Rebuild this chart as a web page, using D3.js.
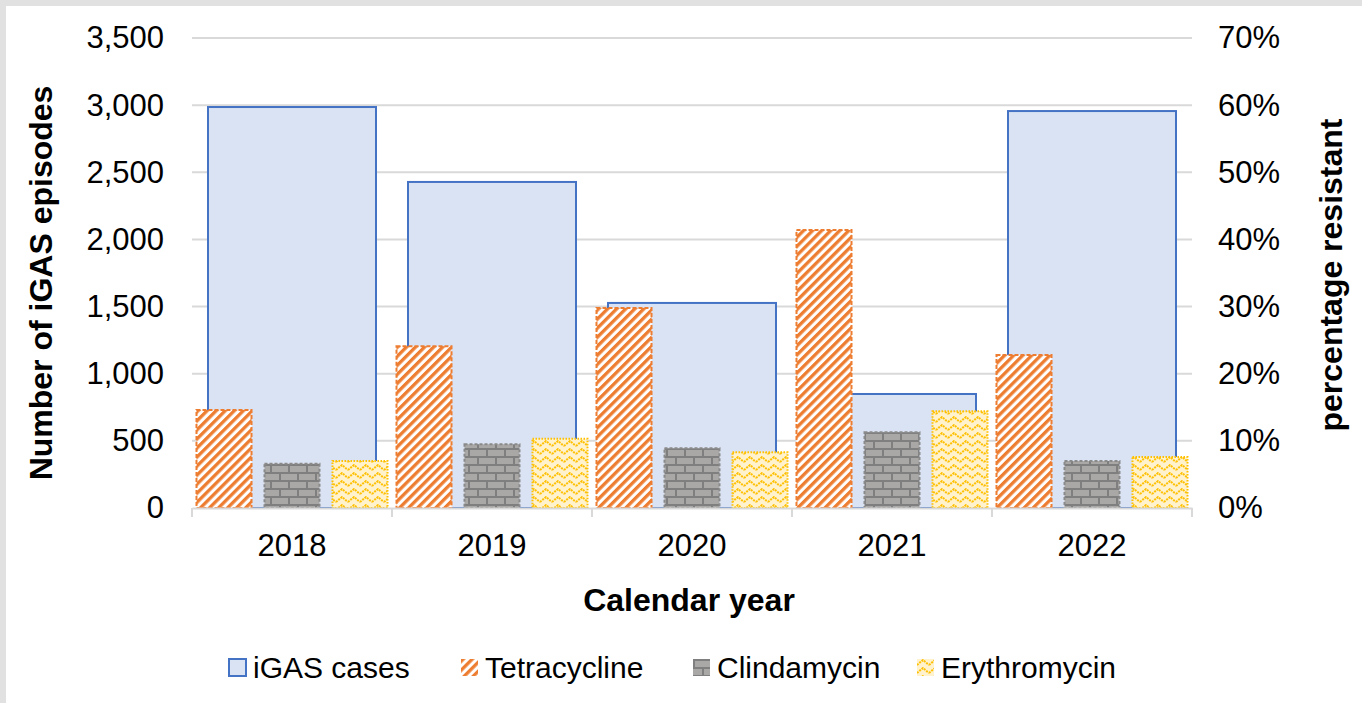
<!DOCTYPE html>
<meta charset="utf-8">
<head>
    <title>iGAS episodes and resistance</title>
    <script src="https://d3js.org/d3.v7.min.js"></script>
</head>
<style type="text/css">
body {
    margin: 0;
    background: #e0e1e0;
    font-family: "Liberation Sans", Arial, sans-serif;
}
svg { display: block; }
</style>
<body>
<svg id="chart" width="1362" height="703"></svg>
<script type="text/javascript">
// data
var years = ["2018", "2019", "2020", "2021", "2022"];
var igasCases = [2986, 2428, 1527, 849, 2956];
var tetracycline = [14.6, 24.1, 29.8, 41.4, 22.8];
var clindamycin = [6.6, 9.5, 8.9, 11.3, 7.0];
var erythromycin = [7.0, 10.3, 8.3, 14.4, 7.6];
var leftTicks = [0, 500, 1000, 1500, 2000, 2500, 3000, 3500];
var rightTicks = [0, 10, 20, 30, 40, 50, 60, 70];
var seriesNames = ["Tetracycline", "Clindamycin", "Erythromycin"];

var svg = d3.select("#chart");
var W = 1362, H = 703;

// white panel inside grey frame
svg.append("rect").attr("x", 6).attr("y", 6).attr("width", W).attr("height", H).attr("fill", "#fff");

var defs = svg.append("defs");

// wide upward diagonal stripes
var pTet = defs.append("pattern").attr("id", "pTet")
    .attr("patternUnits", "userSpaceOnUse").attr("width", 6.4).attr("height", 6.4)
    .attr("patternTransform", "rotate(45)");
pTet.append("rect").attr("width", 6.4).attr("height", 6.4).attr("fill", "#fff");
pTet.append("rect").attr("width", 3.3).attr("height", 6.4).attr("fill", "#ED7D31");

// brick
var pBrick = defs.append("pattern").attr("id", "pBrick")
    .attr("patternUnits", "userSpaceOnUse").attr("width", 18).attr("height", 16);
pBrick.append("rect").attr("width", 18).attr("height", 16).attr("fill", "#aaa8a6");
pBrick.append("path").attr("fill", "none").attr("stroke", "#7f7f7f").attr("stroke-width", 2)
    .attr("d", "M0,1H18M0,9H18M1,1V9M10,9V17");

// zigzag
var pZig = defs.append("pattern").attr("id", "pZig")
    .attr("patternUnits", "userSpaceOnUse").attr("width", 12).attr("height", 8);
pZig.append("rect").attr("width", 12).attr("height", 8).attr("fill", "#FFF2CC");
pZig.append("path").attr("fill", "none").attr("stroke", "#FFC000").attr("stroke-width", 2)
    .attr("stroke-dasharray", "2,1")
    .attr("d", "M0,6L6,1L12,6");

var fills = { Tetracycline: "url(#pTet)", Clindamycin: "url(#pBrick)", Erythromycin: "url(#pZig)" };
var strokes = { Tetracycline: "#ED7D31", Clindamycin: "#8a8a8a", Erythromycin: "#FFC000" };
var dashes = { Tetracycline: "4,2", Clindamycin: "3,2", Erythromycin: "1.5,1.5" };

var plot = { left: 192, right: 1192, top: 38, bottom: 508 };

var x = d3.scaleBand().domain(years).range([plot.left, plot.right]);
var xs = d3.scaleBand().domain(seriesNames).range([0, x.bandwidth()])
    .paddingInner(0.191).paddingOuter(0.066);
var yL = d3.scaleLinear().domain([0, 3500]).range([plot.bottom, plot.top]);
var yR = d3.scaleLinear().domain([0, 70]).range([plot.bottom, plot.top]);

// gridlines
svg.append("g").selectAll("line").data(leftTicks.slice(1)).join("line")
    .attr("x1", plot.left).attr("x2", plot.right)
    .attr("y1", function(d) { return yL(d); }).attr("y2", function(d) { return yL(d); })
    .attr("stroke", "#d9d9d9").attr("stroke-width", 2);

// iGAS bars
var inset = x.bandwidth() * 0.08;
svg.append("g").selectAll("rect").data(years).join("rect")
    .attr("x", function(d) { return x(d) + inset; })
    .attr("width", x.bandwidth() - 2 * inset)
    .attr("y", function(d, i) { return yL(igasCases[i]); })
    .attr("height", function(d, i) { return yL(0) - yL(igasCases[i]); })
    .attr("fill", "#DAE3F3").attr("stroke", "#4472C4").attr("stroke-width", 2);

// resistance bars
var resData = { Tetracycline: tetracycline, Clindamycin: clindamycin, Erythromycin: erythromycin };
seriesNames.forEach(function(s) {
    svg.append("g").selectAll("rect").data(years).join("rect")
        .attr("x", function(d) { return x(d) + xs(s); })
        .attr("width", xs.bandwidth())
        .attr("y", function(d, i) { return yR(resData[s][i]); })
        .attr("height", function(d, i) { return yR(0) - yR(resData[s][i]); })
        .attr("fill", fills[s]).attr("stroke", strokes[s]).attr("stroke-width", 2)
        .attr("stroke-dasharray", dashes[s]);
});

// x axis line + ticks
var xAxis = svg.append("g").attr("transform", "translate(0," + plot.bottom + ")")
    .call(d3.axisBottom(x).tickSize(0).tickPadding(26));
xAxis.select(".domain").attr("stroke", "#d9d9d9").attr("stroke-width", 2);
xAxis.selectAll("text").style("font-size", "31px").attr("fill", "#000")
    .style("font-family", "Liberation Sans, Arial, sans-serif");
svg.append("g").selectAll("line").data(years.concat(["end"])).join("line")
    .attr("x1", function(d) { return d === "end" ? plot.right : x(d); })
    .attr("x2", function(d) { return d === "end" ? plot.right : x(d); })
    .attr("y1", plot.bottom).attr("y2", plot.bottom + 9)
    .attr("stroke", "#d9d9d9").attr("stroke-width", 2);

// left axis
var yAxisL = svg.append("g").attr("transform", "translate(" + plot.left + ",0)")
    .call(d3.axisLeft(yL).tickValues(leftTicks).tickSize(0).tickPadding(28).tickFormat(d3.format(",")));
yAxisL.select(".domain").remove();
yAxisL.selectAll("text").style("font-size", "31px").attr("fill", "#000")
    .style("font-family", "Liberation Sans, Arial, sans-serif");

// right axis
var yAxisR = svg.append("g").attr("transform", "translate(" + plot.right + ",0)")
    .call(d3.axisRight(yR).tickValues(rightTicks).tickSize(0).tickPadding(26).tickFormat(function(d) { return d + "%"; }));
yAxisR.select(".domain").remove();
yAxisR.selectAll("text").style("font-size", "31px").attr("fill", "#000")
    .style("font-family", "Liberation Sans, Arial, sans-serif");

// titles
svg.append("text").attr("x", 689).attr("y", 611).attr("text-anchor", "middle")
    .style("font-size", "32px").style("font-weight", "bold").text("Calendar year");
svg.append("text").attr("transform", "translate(52,283) rotate(-90)").attr("text-anchor", "middle")
    .style("font-size", "32px").style("font-weight", "bold").text("Number of iGAS episodes");
svg.append("text").attr("transform", "translate(1342,275) rotate(-90)").attr("text-anchor", "middle")
    .style("font-size", "32px").style("font-weight", "bold").text("percentage resistant");

// legend
var legendItems = [
    { name: "iGAS cases", fill: "#DAE3F3", stroke: "#4472C4", x: 229 },
    { name: "Tetracycline", fill: fills.Tetracycline, stroke: null, x: 461 },
    { name: "Clindamycin", fill: fills.Clindamycin, stroke: null, x: 693 },
    { name: "Erythromycin", fill: fills.Erythromycin, stroke: null, x: 917 }
];
var lg = svg.append("g").selectAll("g").data(legendItems).join("g")
    .attr("transform", function(d) { return "translate(" + d.x + ",659)"; });
lg.append("rect").attr("width", 17).attr("height", 17)
    .attr("fill", function(d) { return d.fill; })
    .attr("stroke", function(d) { return d.stroke; }).attr("stroke-width", 2);
lg.append("text").attr("x", 24).attr("y", 19).style("font-size", "30px").text(function(d) { return d.name; });
</script>
</body>
